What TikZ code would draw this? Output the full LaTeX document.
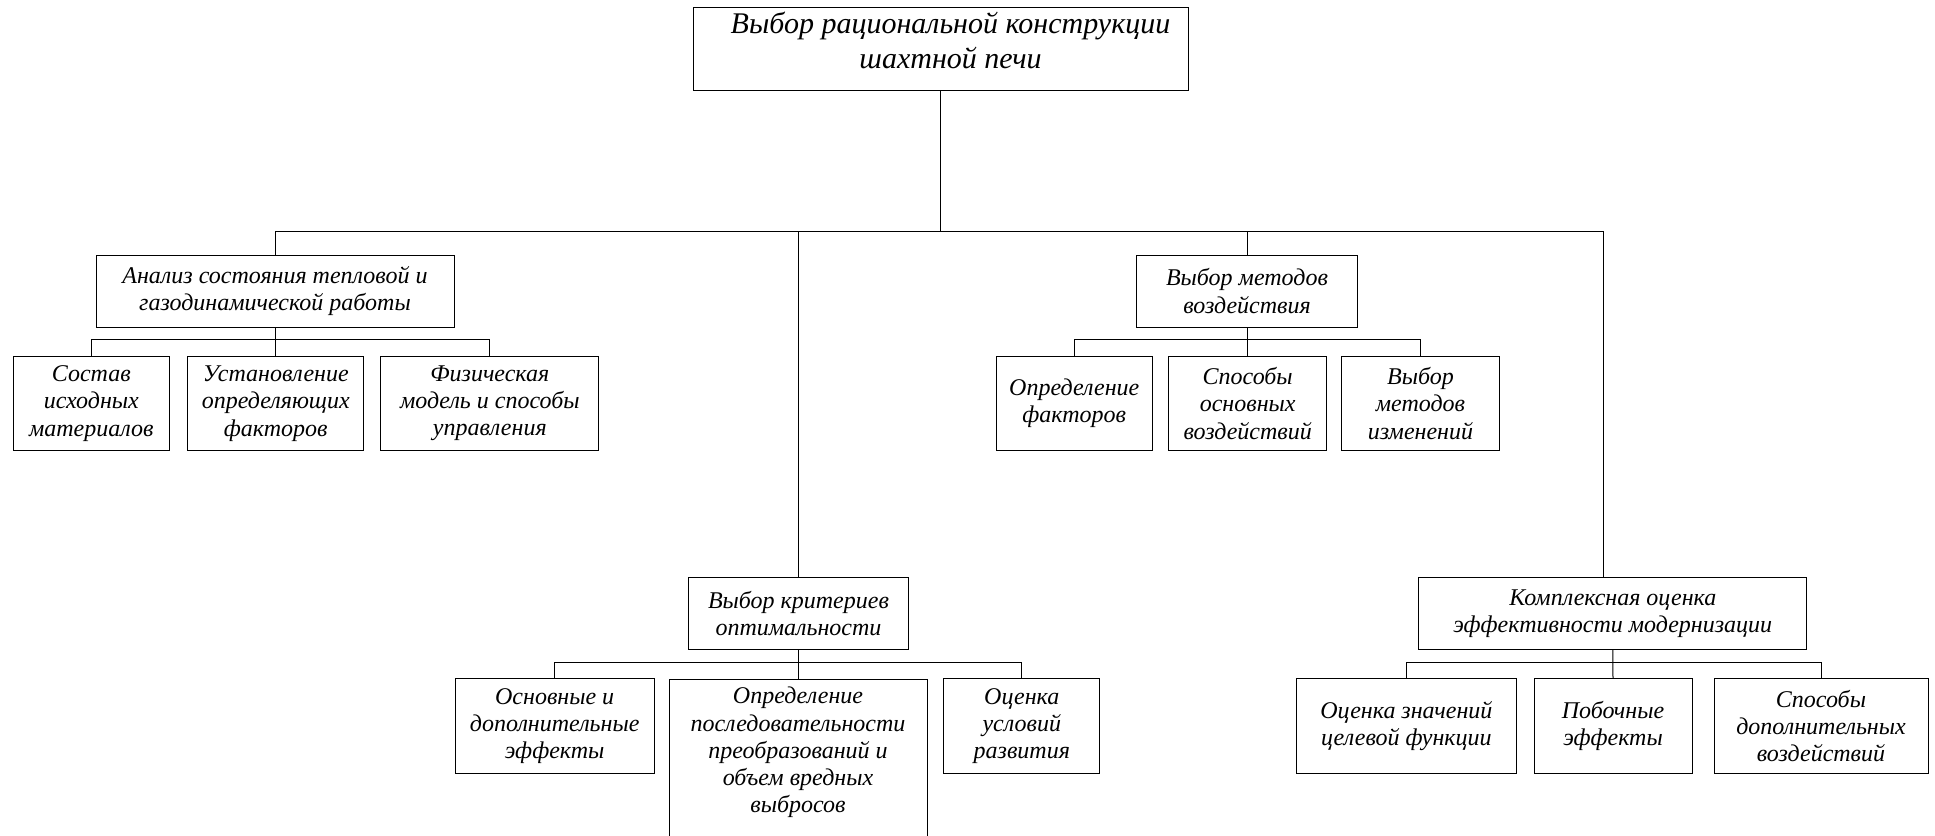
\documentclass[tikz,border=0pt]{standalone}
\usepackage{fontspec}
\setmainfont{Liberation Serif}
\usetikzlibrary{calc}

\begin{document}
\begin{tikzpicture}[x=0.5pt,y=-0.5pt,
    every path/.style={line width=0.5pt},
    box/.style={draw,align=center,inner sep=1pt,
        font=\itshape\fontsize{12}{13.6}\selectfont},
    big/.style={box,text depth=8pt,font=\itshape\fontsize{15}{17.3}\selectfont}]
    \useasboundingbox (0,0) rectangle (1935,836);

    % top
    \node[big,minimum width=247.5pt,minimum height=41.5pt] (root) at (940.5,48.5)
        {\hspace*{10pt}Выбор рациональной конструкции\\\hspace*{10pt}шахтной печи};

    % level 1
    \node[box,minimum width=179pt,minimum height=36pt] (analiz) at (275,291)
        {Анализ состояния тепловой и\\газодинамической работы};
    \node[box,minimum width=110.5pt,minimum height=36pt] (metody) at (1247,291)
        {Выбор методов\\воздействия};
    \node[box,minimum width=110pt,minimum height=36pt] (krit) at (798.5,613.3)
        {Выбор критериев\\оптимальности};
    \node[box,minimum width=194pt,minimum height=36pt] (kompl) at (1612.8,613.3)
        {Комплексная оценка\\эффективности модернизации};

    % level 2
    \node[box,minimum width=78pt,minimum height=47pt] (sostav) at (91.3,403.5)
        {Состав\\исходных\\материалов};
    \node[box,minimum width=88pt,minimum height=47pt] (ustan) at (275.8,403.5)
        {Установление\\определяющих\\факторов};
    \node[box,minimum width=109pt,minimum height=47pt] (fiz) at (489.8,403.5)
        {Физическая\\модель и способы\\управления};

    \node[box,minimum width=78.3pt,minimum height=47pt] (opred) at (1074.3,403.5)
        {Определение\\факторов};
    \node[box,minimum width=79pt,minimum height=47pt] (sposob) at (1247.7,403.5)
        {Способы\\основных\\воздействий};
    \node[box,minimum width=79pt,minimum height=47pt] (izmen) at (1420.5,403.5)
        {Выбор\\методов\\изменений};

    \node[box,minimum width=99.5pt,minimum height=47.5pt] (osnov) at (554.7,726.3)
        {Основные и\\дополнительные\\эффекты};
    \node[box,anchor=north,minimum width=129pt,inner ysep=4pt,text depth=110pt] (posl) at (798,678.7)
        {Определение\\последовательности\\преобразований и\\объем вредных\\выбросов};
    \node[box,minimum width=78pt,minimum height=47.5pt] (uslov) at (1021.8,726.3)
        {Оценка\\условий\\развития};

    \node[box,minimum width=110pt,minimum height=47.5pt] (celev) at (1406.4,726.3)
        {Оценка значений\\целевой функции};
    \node[box,minimum width=79pt,minimum height=47.5pt] (pobo) at (1613,726.3)
        {Побочные\\эффекты};
    \node[box,minimum width=107pt,minimum height=47.5pt] (dopvozd) at (1821,726.3)
        {Способы\\дополнительных\\воздействий};

    % connectors
    \coordinate (bus) at (940.5,231);
    \coordinate (kin) at ([xshift=-4.5pt]kompl.north);
    \draw (root.south) -- (bus);
    \draw (analiz.north) |- (kin |- bus) -- (kin);
    \draw (krit.north) -- (krit.north |- bus);
    \draw (metody.north) -- (metody.north |- bus);

    \draw (sostav.north) |- ([yshift=-6pt]analiz.south) -| (fiz.north);
    \draw (analiz.south) -- (analiz.south |- ustan.north);
    \draw (opred.north) |- ([yshift=-6pt]metody.south) -| (izmen.north);
    \draw (metody.south) -- (metody.south |- sposob.north);
    \draw (osnov.north) |- ([yshift=-6.25pt]krit.south) -| (uslov.north);
    \draw (krit.south) -- (krit.south |- posl.north);
    \draw (celev.north) |- ([yshift=-6.25pt]kompl.south) -| (dopvozd.north);
    \draw (kompl.south) -- (pobo.north);
\end{tikzpicture}
\end{document}
